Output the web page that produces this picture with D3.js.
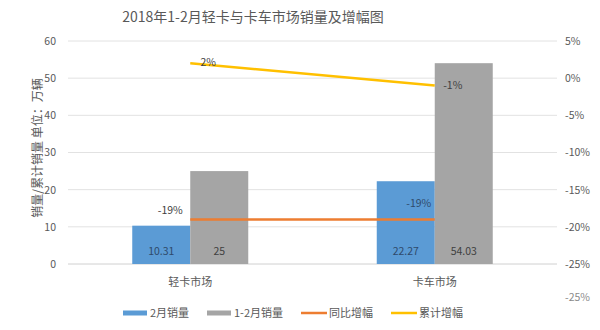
<!DOCTYPE html>
<html><head><meta charset="utf-8">
<script src="https://cdn.jsdelivr.net/npm/d3@7"></script>
<style>body{margin:0;background:#fff}text{font-family:"Noto Sans CJK SC","Liberation Sans",sans-serif}</style>
</head><body><svg id="c" width="600" height="330"></svg>
<script>
const categories = ["轻卡市场", "卡车市场"];
const febSales = [10.31, 22.27];
const cumSales = [25, 54.03];
const yoyGrowth = [-19, -19];
const cumGrowth = [2, -1];
const leftTicks = [0, 10, 20, 30, 40, 50, 60];
const rightTicks = [5, 0, -5, -10, -15, -20, -25];
const seriesNames = ["2月销量", "1-2月销量", "同比增幅", "累计增幅"];
const colors = ["#5b9bd5", "#a5a5a5", "#ed7d31", "#ffc000"];

const svg = d3.select("#c");
const L = 68, R = 557, T = 41, B = 264;
const x = d3.scaleBand().domain(categories).range([L, R]);
const yL = d3.scaleLinear().domain([0, 60]).range([B, T]);
const yR = d3.scaleLinear().domain([-25, 5]).range([B, T]);
const bw = 58;

svg.append("text").attr("x", 253).attr("y", 22).attr("text-anchor", "middle")
  .attr("font-size", 14).attr("fill", "#595959").text("2018年1-2月轻卡与卡车市场销量及增幅图");

// grid
svg.append("g").selectAll("line").data(leftTicks).join("line")
  .attr("x1", L).attr("x2", R).attr("y1", d => yL(d)).attr("y2", d => yL(d))
  .attr("stroke", d => d === 0 ? "#d0d0d0" : "#e2e2e2").attr("stroke-width", 1);

// left axis
const gl = svg.append("g").attr("transform", `translate(${L},0)`)
  .call(d3.axisLeft(yL).tickValues(leftTicks).tickSize(0).tickPadding(12));
gl.select(".domain").remove();
gl.selectAll("text").attr("font-size", 10.5).attr("fill", "#595959").attr("font-family", "Liberation Sans, sans-serif");

// right axis
const gr = svg.append("g").attr("transform", `translate(${R},0)`)
  .call(d3.axisRight(yR).tickValues(rightTicks).tickSize(0).tickPadding(8).tickFormat(d => d + "%"));
gr.select(".domain").remove();
gr.selectAll("text").attr("font-size", 10.5).attr("fill", "#595959").attr("font-family", "Liberation Sans, sans-serif");
svg.append("text").attr("x", R + 8).attr("y", 298).attr("font-size", 10.5).attr("fill", "#8a8a8a")
  .attr("font-family", "Liberation Sans, sans-serif").attr("dy", "0.32em").text(rightTicks[rightTicks.length - 1] + "%");

// y title
svg.append("text").attr("transform", `translate(42,148) rotate(-90)`)
  .attr("text-anchor", "middle").attr("font-size", 12).attr("fill", "#595959").text("销量/累计销量 单位：万辆");

// bars
const cx = d => x(d) + x.bandwidth() / 2;
svg.append("g").selectAll("rect").data(categories).join("rect")
  .attr("x", d => cx(d) - bw).attr("width", bw)
  .attr("y", (d, i) => yL(febSales[i])).attr("height", (d, i) => B - yL(febSales[i])).attr("fill", colors[0]);
svg.append("g").selectAll("rect").data(categories).join("rect")
  .attr("x", d => cx(d)).attr("width", bw)
  .attr("y", (d, i) => yL(cumSales[i])).attr("height", (d, i) => B - yL(cumSales[i])).attr("fill", colors[1]);

svg.append("g").selectAll("text").data(categories).join("text")
  .attr("x", d => cx(d) - bw / 2).attr("y", B - 9).attr("text-anchor", "middle")
  .attr("font-size", 10.5).attr("fill", "#2f4a6b").attr("font-family", "Liberation Sans, sans-serif")
  .text((d, i) => febSales[i]);
svg.append("g").selectAll("text").data(categories).join("text")
  .attr("x", d => cx(d) + bw / 2).attr("y", B - 9).attr("text-anchor", "middle")
  .attr("font-size", 10.5).attr("fill", "#404040").attr("font-family", "Liberation Sans, sans-serif")
  .text((d, i) => cumSales[i]);

// lines
const line = d3.line().x(d => d[0]).y(d => d[1]);
svg.append("path").attr("d", line(categories.map((c, i) => [cx(c), yR(yoyGrowth[i])])))
  .attr("stroke", colors[2]).attr("stroke-width", 2.5).attr("fill", "none");
svg.append("path").attr("d", line(categories.map((c, i) => [cx(c), yR(cumGrowth[i])])))
  .attr("stroke", colors[3]).attr("stroke-width", 2.5).attr("fill", "none");

// line labels
const yoyOff = [[-20, -5], [-16, -12]];
svg.append("g").selectAll("text").data(categories).join("text")
  .attr("x", (d, i) => cx(d) + yoyOff[i][0]).attr("y", (d, i) => yR(yoyGrowth[i]) + yoyOff[i][1])
  .attr("text-anchor", "middle").attr("font-size", 10.5)
  .attr("fill", (d, i) => i === 0 ? "#404040" : "#2f4a6b").attr("font-family", "Liberation Sans, sans-serif")
  .text((d, i) => yoyGrowth[i] + "%");
svg.append("g").selectAll("text").data(categories).join("text")
  .attr("x", d => cx(d) + 18).attr("y", (d, i) => yR(cumGrowth[i]) + 3)
  .attr("text-anchor", "middle").attr("font-size", 10.5).attr("fill", "#404040")
  .attr("font-family", "Liberation Sans, sans-serif")
  .text((d, i) => cumGrowth[i] + "%");

// category labels
svg.append("g").selectAll("text").data(categories).join("text")
  .attr("x", d => cx(d)).attr("y", 286).attr("text-anchor", "middle")
  .attr("font-size", 11).attr("fill", "#595959").text(d => d);

// legend
const lx = [123, 207, 301, 391];
const lg = svg.append("g").selectAll("g").data(seriesNames).join("g")
  .attr("transform", (d, i) => `translate(${lx[i]},313)`);
lg.each(function (d, i) {
  const g = d3.select(this);
  if (i < 2) g.append("rect").attr("x", 0).attr("y", -2.5).attr("width", 24).attr("height", 5).attr("fill", colors[i]);
  else g.append("line").attr("x1", 0).attr("x2", 26).attr("y1", 0).attr("y2", 0).attr("stroke", colors[i]).attr("stroke-width", 2.5);
  g.append("text").attr("x", i < 2 ? 27 : 28).attr("y", 4).attr("font-size", 11).attr("fill", "#595959").text(d);
});
</script></body></html>
